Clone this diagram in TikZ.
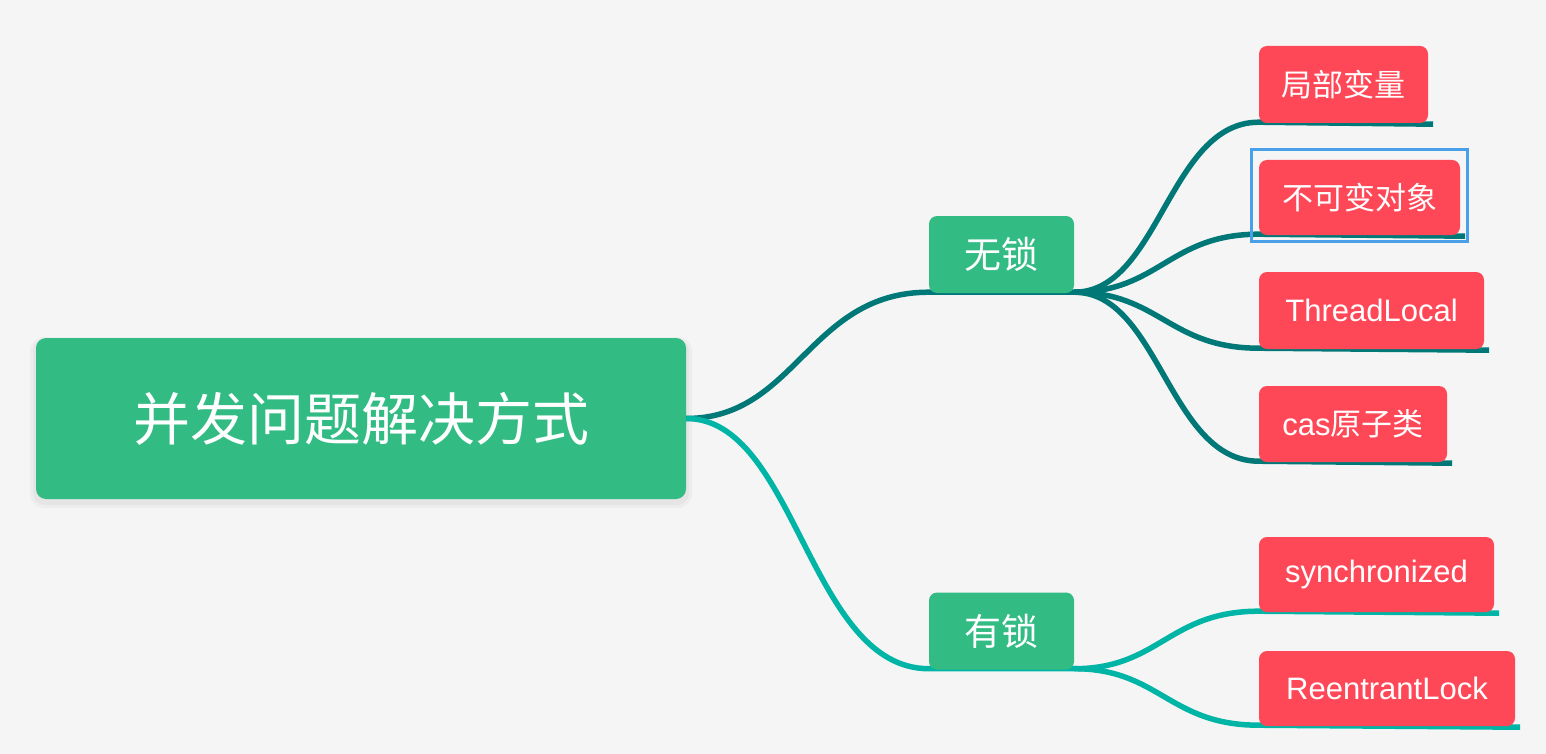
\documentclass[tikz,border=0pt]{standalone}
\usepackage{fontspec}
\setmainfont{Liberation Sans}
\newfontfamily\cjk{Noto Sans CJK SC}
\definecolor{bgc}{RGB}{245,245,245}
\definecolor{rootg}{RGB}{50,188,132}
\definecolor{leafr}{RGB}{255,72,87}
\definecolor{darkteal}{RGB}{0,120,120}
\definecolor{liteal}{RGB}{0,180,166}
\definecolor{selblue}{RGB}{74,160,232}
\pgfdeclarelayer{bg}
\pgfdeclarelayer{lines}
\pgfsetlayers{bg,lines,main}
\tikzset{
  rootbox/.style={fill=rootg, rounded corners=10pt, text=white, inner sep=0pt,
    minimum width=650pt, minimum height=161pt, font=\cjk\fontsize{57}{60}\selectfont},
  midbox/.style={fill=rootg, rounded corners=8pt, text=white, inner sep=0pt,
    minimum width=145pt, minimum height=77pt, font=\cjk\fontsize{37}{40}\selectfont},
  leafbox/.style={fill=leafr, rounded corners=8pt, text=white, inner sep=0pt,
    minimum height=76pt, font=\fontsize{31}{34}\selectfont},
  upline/.style={draw=darkteal, line width=5.5pt},
  lowline/.style={draw=liteal, line width=5.5pt},
}
\begin{document}
\begin{tikzpicture}[x=1pt,y=-1pt]
\begin{pgfonlayer}{bg}
\fill[bgc] (0,0) rectangle (1546,754);
% soft shadow of root
\fill[black, opacity=0.03, rounded corners=12pt] (33,339) rectangle (689,505);
\fill[black, opacity=0.03, rounded corners=14pt] (30,337) rectangle (692,508);
\end{pgfonlayer}
\useasboundingbox (0,0) rectangle (1546,754);
% nodes
\node[rootbox] (root) at (361,418.5) {并发问题解决方式};
\node[midbox] (wu) at (1001.5,254.5) {无锁};
\node[midbox] (you) at (1001.5,631) {有锁};
\node[leafbox, minimum width=169pt, minimum height=77pt] (l1) at (1343.5,84.5) {\cjk 局部变量};
\node[leafbox, minimum width=201pt, minimum height=75pt] (l2) at (1359.5,197.5) {\cjk 不可变对象};
\node[leafbox, minimum width=225pt, minimum height=77pt] (l3) at (1371.5,310.5) {ThreadLocal};
\node[leafbox, minimum width=188pt, minimum height=76pt] (l4) at (1353,424) {cas{\cjk 原子类}};
\node[leafbox, minimum width=235pt, minimum height=75pt] (l5) at (1376.5,574.5) {synchronized};
\node[leafbox, minimum width=256pt, minimum height=75pt] (l6) at (1387,688.5) {ReentrantLock};
% connectors (behind nodes)
\coordinate (wuL) at ([yshift=1pt]wu.south west);
\coordinate (wuR) at ([yshift=1pt]wu.south east);
\coordinate (youL) at ([yshift=1pt]you.south west);
\coordinate (youR) at ([yshift=1pt]you.south east);
\foreach \n in {1,...,6} {
  \coordinate (b\n) at ([yshift=1pt]l\n.south west);
  \coordinate (e\n) at ([shift={(5,1)}]l\n.south east);
}
\begin{pgfonlayer}{lines}
\draw[upline] (root.east) .. controls +(110,0) and +(-120,0) .. (wuL) -- (wuR);
\draw[lowline] (root.east) .. controls +(110,0) and +(-120,0) .. (youL) -- (youR);
\foreach \n in {1,2,3,4} {
  \draw[upline] (wuR) .. controls +(85,0) and +(-90,0) .. (b\n) -- (e\n);
}
\foreach \n in {5,6} {
  \draw[lowline] (youR) .. controls +(85,0) and +(-90,0) .. (b\n) -- (e\n);
}
\end{pgfonlayer}
% selection frame
\draw[selblue, line width=3pt] ([shift={(-7,-10)}]l2.north west) rectangle ([shift={(7,6)}]l2.south east);
\end{tikzpicture}
\end{document}
